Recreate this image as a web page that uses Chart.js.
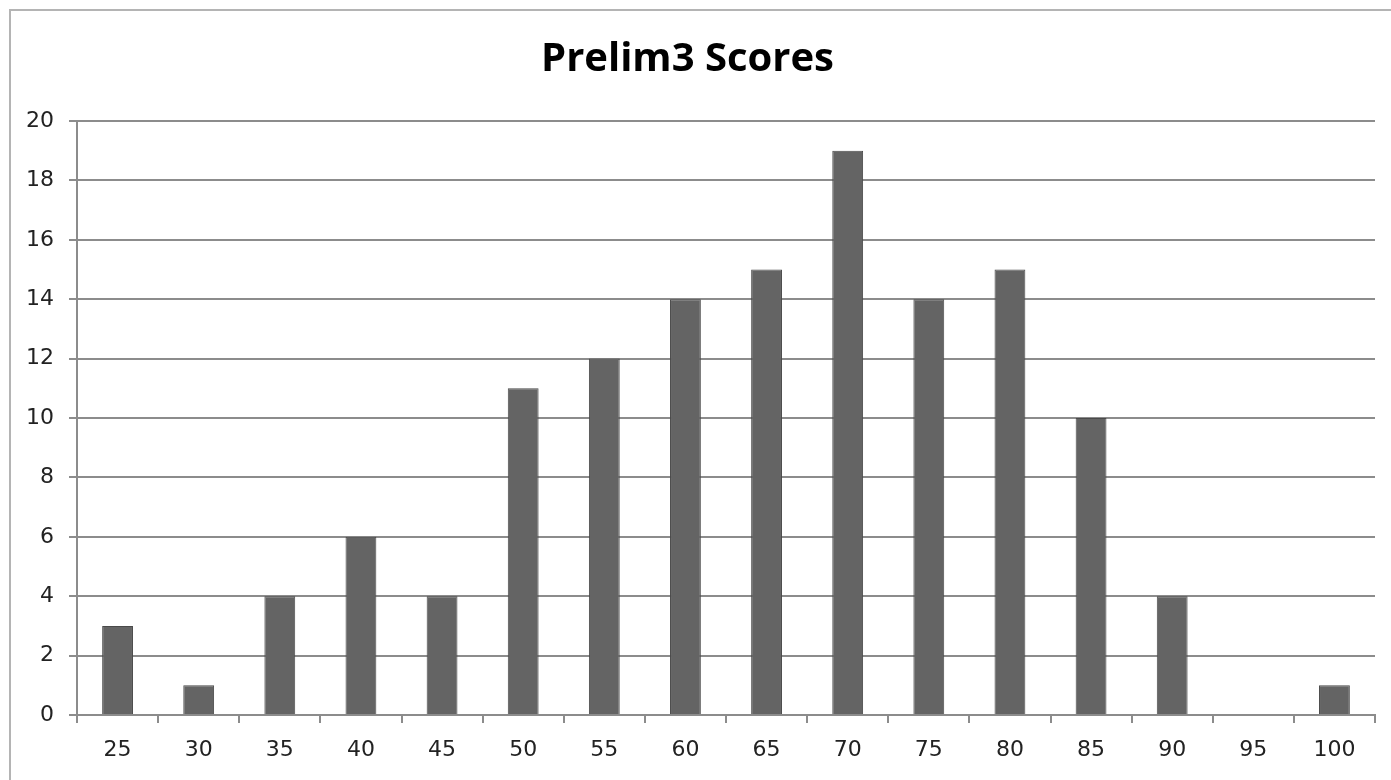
<!DOCTYPE html>
<html>
<head>
<meta charset="utf-8">
<script src="https://cdn.jsdelivr.net/npm/chart.js@4.4.0/dist/chart.umd.min.js"></script>
<style>
  html, body { margin: 0; padding: 0; background: #fff; }
  #wrap { position: relative; width: 1391px; height: 780px; overflow: hidden; }
  #frame { position: absolute; left: 9px; top: 9px; width: 1400px; height: 800px;
           border-left: 2px solid #b4b4b4; border-top: 2px solid #b4b4b4; }
  canvas { position: absolute; left: 0; top: 0; }
</style>
</head>
<body>
<div id="wrap">
  <div id="frame"></div>
  <canvas id="chart" width="1391" height="780"></canvas>
</div>
<script>
// --- chart data ---
const scoreBins = ['25', '30', '35', '40', '45', '50', '55', '60', '65', '70', '75', '80', '85', '90', '95', '100'];
const studentCounts = [3, 1, 4, 6, 4, 11, 12, 14, 15, 19, 14, 15, 10, 4, 0, 1];
const yTicks = [0, 2, 4, 6, 8, 10, 12, 14, 16, 18, 20];

const axisFont = { family: '"DejaVu Sans", sans-serif', size: 22 };

new Chart(document.getElementById('chart'), {
    type: 'bar',
    data: {
        labels: scoreBins,
        datasets: [{
            data: studentCounts,
            backgroundColor: '#646464',
            borderColor: '#4a4a4a',
            borderWidth: 1,
            barPercentage: 0.76,
            categoryPercentage: 0.5
        }]
    },
    options: {
        responsive: false,
        animation: false,
        devicePixelRatio: 1,
        layout: { padding: { left: 0, right: 16, top: 0, bottom: 0 } },
        plugins: {
            legend: { display: false },
            tooltip: { enabled: false },
            title: {
                display: true,
                text: 'Prelim3 Scores',
                color: '#000',
                font: { family: '"Open Sans", "Liberation Sans", sans-serif', size: 40, weight: 'bold' },
                padding: { top: 36, bottom: 37 }
            }
        },
        scales: {
            x: {
                grid: { display: true, drawOnChartArea: false, drawTicks: true, tickLength: 8, color: '#8c8c8c', lineWidth: 2, offset: true },
                border: { display: true, color: '#8c8c8c', width: 2 },
                ticks: { color: '#222', font: axisFont, padding: 14, maxRotation: 0 },
                afterFit: s => { s.height = 65; }
            },
            y: {
                min: 0,
                max: 20,
                afterBuildTicks: s => { s.ticks = yTicks.map(v => ({ value: v })); },
                grid: { color: '#8c8c8c', lineWidth: 2, tickLength: 8 },
                border: { display: true, color: '#8c8c8c', width: 2 },
                ticks: { color: '#222', font: axisFont, padding: 15 },
                afterFit: s => { s.width = 77; }
            }
        }
    }
});
</script>
</body>
</html>
